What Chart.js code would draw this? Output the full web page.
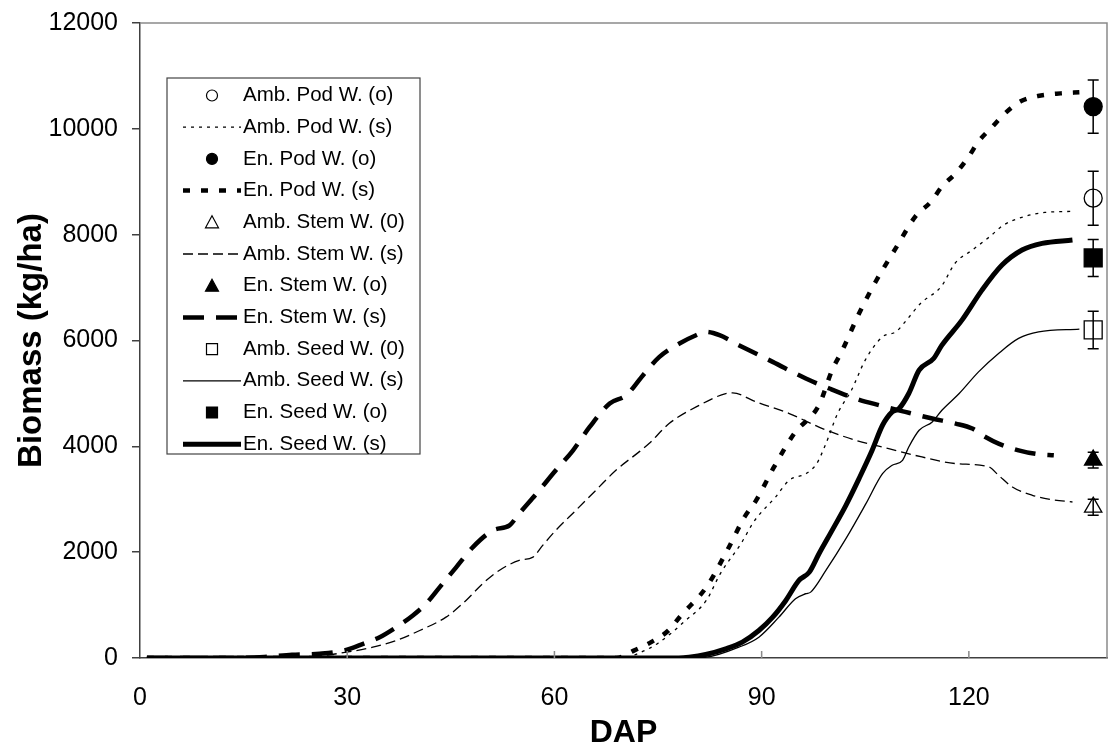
<!DOCTYPE html>
<html>
<head>
<meta charset="utf-8">
<title>Biomass vs DAP</title>
<script src="https://cdn.jsdelivr.net/npm/chart.js"></script>
<style>
  body { margin: 0; background: #fff; }
  #wrap { width: 1108px; height: 748px; }
</style>
</head>
<body>
<div id="wrap"><canvas id="biomassChart" width="1108" height="748"></canvas></div>
<script>
// simulated curves (DAP, kg/ha)
const ambPodDap = [1, 70, 72, 75, 79, 82, 84, 87, 89, 92, 94, 96.5, 98, 99.3, 101, 103, 105, 107.5, 109.5, 111, 113, 116, 118, 120.5, 123, 125, 128, 131, 135];
const ambPodSim = [0, 0, 80, 280, 710, 1090, 1590, 2160, 2600, 3040, 3360, 3490, 3680, 4050, 4620, 5060, 5630, 6070, 6170, 6390, 6700, 7020, 7460, 7710, 7960, 8180, 8340, 8420, 8440];

const enPodDap = [1, 69, 71.5, 74, 76.5, 78.3, 82, 85, 87.5, 89.2, 91.8, 94.7, 98.3, 100.2, 101.7, 104.1, 106.5, 109.4, 112.3, 114.5, 116.1, 118.1, 120, 121.4, 123.4, 125.3, 127.5, 130, 133.3, 136];
const enPodSim = [0, 0, 140, 300, 520, 800, 1340, 2030, 2660, 2980, 3610, 4240, 4780, 5440, 5820, 6510, 7110, 7740, 8350, 8620, 8910, 9160, 9480, 9760, 10040, 10300, 10520, 10620, 10670, 10690];

const ambStemDap = [1, 20, 26, 29.9, 33.7, 37.1, 40.5, 44.3, 47.2, 49.6, 52, 54.9, 56.9, 58.3, 60.2, 63.1, 66, 68.9, 72.3, 73.7, 76.6, 81, 84.8, 85.8, 89.2, 94, 98.8, 103.6, 108.4, 113.2, 118.1, 122.9, 124.3, 126.3, 129.2, 132, 135];
const ambStemSim = [0, 0, 40, 110, 204, 331, 520, 772, 1088, 1404, 1655, 1844, 1907, 2128, 2412, 2790, 3169, 3547, 3900, 4052, 4430, 4777, 4998, 5010, 4839, 4620, 4336, 4115, 3957, 3799, 3674, 3610, 3453, 3232, 3074, 2993, 2948];

const enStemDap = [1, 12, 18, 22, 26, 29.6, 32.3, 34.7, 37.1, 39.5, 41.4, 43.4, 45.8, 48.2, 51.1, 53.5, 54.9, 57.4, 60.2, 62.7, 65.1, 68, 70.4, 72.8, 75.2, 78.1, 80.5, 81.9, 83.9, 86.7, 91.6, 96.4, 99.8, 103.6, 107, 110.8, 114.7, 118.1, 120.5, 122.4, 124.3, 127.2, 130.1, 132.3];
const enStemSim = [0, 0, 20, 60, 80, 142, 268, 394, 583, 804, 1025, 1340, 1718, 2096, 2412, 2507, 2728, 3106, 3547, 3925, 4366, 4809, 4966, 5340, 5691, 5944, 6100, 6164, 6101, 5912, 5596, 5282, 5093, 4903, 4777, 4650, 4525, 4430, 4336, 4177, 4052, 3925, 3850, 3831];

const ambSeedDap = [1, 79, 82, 86.7, 89.6, 92.5, 94.9, 96.4, 97.1, 99.3, 102.2, 105.1, 107.5, 108.9, 110.4, 111.3, 112.8, 114.7, 116.1, 118.6, 121.4, 124.3, 127.2, 130.1, 136];
const ambSeedSim = [0, 0, 15, 204, 394, 772, 1120, 1215, 1245, 1655, 2255, 2917, 3485, 3642, 3736, 3988, 4304, 4461, 4682, 4998, 5407, 5755, 6039, 6164, 6215];

const enSeedDap = [1, 78, 79.5, 81.9, 84.8, 87.2, 89.6, 91.6, 93.5, 95.4, 96.9, 98.3, 100.2, 102.2, 104.1, 106, 107.5, 108.9, 109.9, 111.3, 112.8, 114.9, 116.1, 119, 121.9, 124.8, 127.7, 130.6, 135];
const enSeedSim = [0, 0, 15, 66, 174, 300, 520, 772, 1088, 1466, 1623, 1971, 2412, 2885, 3390, 3925, 4398, 4650, 4714, 4998, 5439, 5660, 5912, 6385, 6952, 7425, 7709, 7835, 7898];

// observed at harvest: amb pod, en pod, amb stem, en stem, amb seed, en seed
const obsDap = 138;
const obsValues = [8690, 10420, 2850, 3740, 6200, 7560];
const obsErrors = [510, 505, 150, 150, 355, 350];

const obsLabels = ["Amb. Pod W. (o)", "En. Pod W. (o)", "Amb. Stem W. (0)", "En. Stem W. (o)", "Amb. Seed W. (0)", "En. Seed W. (o)"];
const simLabels = ["Amb. Pod W. (s)", "En. Pod W. (s)", "Amb. Stem W. (s)", "En. Stem W. (s)", "Amb. Seed W. (s)", "En. Seed W. (s)"];

const xTicks = [0, 30, 60, 90, 120];
const yTicks = [0, 2000, 4000, 6000, 8000, 10000, 12000];

Chart.defaults.font.family = "'Liberation Sans', Arial, sans-serif";
Chart.defaults.color = "#000";

function toPoints(dap, vals) {
  return dap.map((d, i) => ({ x: d, y: vals[i] }));
}

function simSet(label, dap, vals, width, dash) {
  return {
    label: label,
    data: toPoints(dap, vals),
    borderColor: "#000",
    borderWidth: width,
    borderDash: dash,
    borderCapStyle: "butt",
    pointRadius: 0,
    fill: false,
    cubicInterpolationMode: "monotone",
  };
}

function obsSet(i, style, radius, filled) {
  return {
    label: obsLabels[i],
    data: [{ x: obsDap, y: obsValues[i] }],
    err: obsErrors[i],
    showLine: false,
    pointStyle: style,
    pointRadius: radius,
    pointBorderWidth: 1.3,
    pointBorderColor: "#000",
    pointBackgroundColor: filled ? "#000" : "#fff",
    mark: { style: style, filled: filled },
  };
}

const sims = [
  simSet(simLabels[0], ambPodDap, ambPodSim, 1.3, [3, 5]),
  simSet(simLabels[1], enPodDap, enPodSim, 4.5, [7, 11]),
  simSet(simLabels[2], ambStemDap, ambStemSim, 1.3, [10, 5]),
  simSet(simLabels[3], enStemDap, enStemSim, 4.5, [21, 12]),
  simSet(simLabels[4], ambSeedDap, ambSeedSim, 1.3, []),
  simSet(simLabels[5], enSeedDap, enSeedSim, 5, []),
];
const obs = [
  obsSet(0, "circle", 9, false),
  obsSet(1, "circle", 9, true),
  obsSet(2, "triangle", 10, false),
  obsSet(3, "triangle", 10, true),
  obsSet(4, "rect", 12.7, false),
  obsSet(5, "rect", 12.7, true),
];

// legend order: observed then simulated for each variable
let datasets = [];
for (let i = 0; i < 6; i++) {
  datasets.push(obs[i]);
  datasets.push(sims[i]);
}

// top/right frame and inward x ticks
const frameTicks = {
  id: "frameTicks",
  afterDraw(chart) {
    const c = chart.ctx;
    const a = chart.chartArea;
    const xs = chart.scales.x;
    c.save();
    c.strokeStyle = "#8a8a8a";
    c.lineWidth = 1.5;
    c.beginPath();
    c.moveTo(a.left, a.top);
    c.lineTo(a.right, a.top);
    c.lineTo(a.right, a.bottom);
    c.stroke();
    c.beginPath();
    xTicks.forEach((v) => {
      if (v === 0) return;
      const px = xs.getPixelForValue(v);
      c.moveTo(px, a.bottom);
      c.lineTo(px, a.bottom - 7);
    });
    c.stroke();
    c.restore();
  },
};

const errorBars = {
  id: "errorBars",
  afterDatasetsDraw(chart) {
    const c = chart.ctx;
    const xs = chart.scales.x;
    const ys = chart.scales.y;
    c.save();
    c.strokeStyle = "#000";
    c.lineWidth = 1.5;
    chart.data.datasets.forEach((ds) => {
      if (ds.err === undefined) return;
      const p = ds.data[0];
      const px = xs.getPixelForValue(p.x);
      const top = ys.getPixelForValue(p.y + ds.err);
      const bot = ys.getPixelForValue(p.y - ds.err);
      c.beginPath();
      c.moveTo(px, top);
      c.lineTo(px, bot);
      c.moveTo(px - 5.5, top);
      c.lineTo(px + 5.5, top);
      c.moveTo(px - 5.5, bot);
      c.lineTo(px + 5.5, bot);
      c.stroke();
    });
    c.restore();
  },
};

function drawMark(c, style, x, y, filled) {
  c.beginPath();
  if (style === "circle") {
    c.arc(x, y, 5.5, 0, Math.PI * 2);
  } else if (style === "triangle") {
    c.moveTo(x, y - 6.5);
    c.lineTo(x + 6.5, y + 5.5);
    c.lineTo(x - 6.5, y + 5.5);
    c.closePath();
  } else {
    c.rect(x - 5.5, y - 5.5, 11, 11);
  }
  c.fillStyle = filled ? "#000" : "#fff";
  c.fill();
  c.lineWidth = 1.2;
  c.strokeStyle = "#000";
  c.stroke();
}

const legendBox = {
  id: "legendBox",
  afterDraw(chart) {
    const c = chart.ctx;
    const a = chart.chartArea;
    const left = a.left + 27;
    const top = a.top + 55;
    c.save();
    c.fillStyle = "#fff";
    c.fillRect(left, top, 253, 376);
    c.strokeStyle = "#444";
    c.lineWidth = 1.2;
    c.strokeRect(left, top, 253, 376);
    c.font = "20.5px 'Liberation Sans', Arial, sans-serif";
    c.textBaseline = "middle";
    chart.data.datasets.forEach((ds, i) => {
      const y = top + 17.5 + i * 31.7;
      if (ds.mark) {
        drawMark(c, ds.mark.style, left + 45, y, ds.mark.filled);
      } else {
        c.beginPath();
        c.setLineDash(ds.borderDash);
        c.lineWidth = ds.borderWidth;
        c.strokeStyle = "#000";
        c.moveTo(left + 16, y);
        c.lineTo(left + 74, y);
        c.stroke();
        c.setLineDash([]);
      }
      c.fillStyle = "#000";
      c.fillText(ds.label, left + 76, y);
    });
    c.restore();
  },
};

var ctx = document.getElementById("biomassChart").getContext("2d");
var biomassChart = new Chart(ctx, {
  type: "line",
  data: { datasets: datasets },
  options: {
    responsive: false,
    animation: false,
    devicePixelRatio: 1,
    layout: { autoPadding: false, padding: { top: 23, right: 1, left: 0, bottom: 0 } },
    plugins: {
      legend: { display: false },
      tooltip: { enabled: false },
    },
    scales: {
      x: {
        type: "linear",
        min: 0,
        max: 140,
        afterBuildTicks: (s) => {
          s.ticks = xTicks.map((v) => ({ value: v }));
        },
        afterFit: (s) => {
          s.height = 90;
          s.paddingLeft = 0;
          s.paddingRight = 0;
        },
        ticks: { font: { size: 25 }, color: "#000", padding: 25, maxRotation: 0, autoSkip: false },
        grid: { display: true, drawOnChartArea: false, drawTicks: false },
        border: { display: true, color: "#404040", width: 1.5 },
        title: {
          display: true,
          text: "DAP",
          color: "#000",
          font: { size: 32, weight: "bold", lineHeight: 0.9 },
          padding: { top: 0, bottom: 0 },
        },
      },
      y: {
        type: "linear",
        min: 0,
        max: 12000,
        afterBuildTicks: (s) => {
          s.ticks = yTicks.map((v) => ({ value: v }));
        },
        afterFit: (s) => {
          s.width = 140;
          s.paddingTop = 0;
          s.paddingBottom = 0;
        },
        ticks: { font: { size: 25 }, color: "#000", padding: 14, callback: (v) => String(v) },
        grid: { display: true, drawOnChartArea: false, drawTicks: true, tickLength: 8, color: "#404040", lineWidth: 1.5 },
        border: { display: true, color: "#404040", width: 1.5 },
        title: {
          display: true,
          text: "Biomass (kg/ha)",
          color: "#000",
          font: { size: 33, weight: "bold", lineHeight: 1 },
          padding: { top: 15, bottom: 0 },
        },
      },
    },
  },
  plugins: [frameTicks, errorBars, legendBox],
});
</script>
</body>
</html>
